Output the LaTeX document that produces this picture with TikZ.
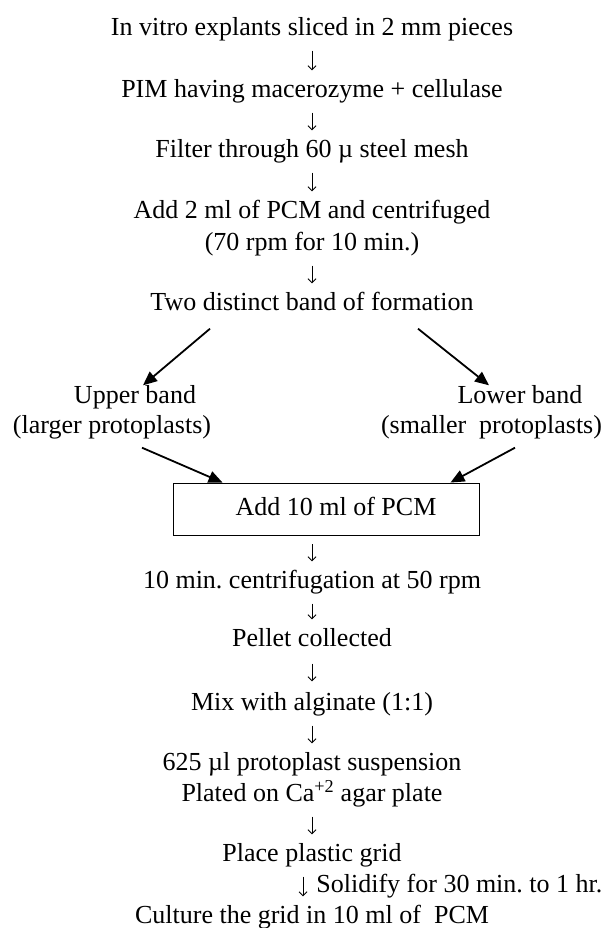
\documentclass[tikz,border=0pt]{standalone}
\usepackage{fontspec}
\setmainfont{Liberation Serif}
\usetikzlibrary{arrows.meta,calc}

\begin{document}
\begin{tikzpicture}[x=1pt,y=-1pt,
    stage/.style={inner sep=0pt,text height=18pt,text depth=6pt,font=\fontsize{26}{31}\selectfont\frenchspacing},
    boxed/.style={stage,draw,line width=0.9pt,minimum width=306pt,minimum height=52pt},
    down/.style={line width=0.8pt,-{Straight Barb[length=4pt,width=8pt]},shorten <=9pt,shorten >=9pt},
    fork/.style={line width=1.8pt,-{Triangle[length=14pt,width=12pt]}}]
    \useasboundingbox (0,0) rectangle (612,928);

    % main column
    \node[stage] (slice) at (312,29.5) {In vitro explants sliced in 2 mm pieces};
    \node[stage] (pim) at (312,91.5) {PIM having macerozyme + cellulase};
    \node[stage] (filter) at (312,151.5) {Filter through 60 µ steel mesh};
    \node[stage] (addtwo) at (312,212.5) {Add 2 ml of PCM and centrifuged};
    \node[stage] (rpm) at (312,244.5) {(70 rpm for 10 min.)};
    \node[stage] (bands) at (312,304.5) {Two distinct band of formation};

    % the two bands
    \node[stage] (upper) at (135,397.5) {Upper band};
    \node[stage] (larger) at (112,427.5) {(larger protoplasts)};
    \node[stage] (lower) at (520,397.5) {Lower band};
    \node[stage] (smaller) at (491.5,427.5) {(smaller~ protoplasts)};

    \node[boxed] (addten) at (326,509) {\hspace{20pt}Add 10 ml of PCM};
    \node[stage] (spin) at (312,582.5) {10 min. centrifugation at 50 rpm};
    \node[stage] (pellet) at (312,640.5) {Pellet collected};
    \node[stage] (mix) at (312,704.5) {Mix with alginate (1:1)};
    \node[stage] (susp) at (312,764.5) {625 µl protoplast suspension};
    \node[stage] (plated) at (312,795.5) {Plated on Ca\textsuperscript{+2} agar plate};
    \node[stage] (grid) at (312,855.5) {Place plastic grid};
    \node[stage] (culture) at (312,917.5) {Culture the grid in 10 ml of~ PCM};

    % arrows
    \draw[down] (slice) -- (pim);
    \draw[down] (pim) -- (filter);
    \draw[down] (filter) -- (addtwo);
    \draw[down] (rpm) -- (bands);
    \draw[fork] ($(bands.south)+(-102,12)$) -- ([xshift=8pt]upper.north);
    \draw[fork] ($(bands.south)+(106,12)$) -- ([xshift=-31pt]lower.north);
    \draw[fork] ($(larger.south)+(30,8)$) -- ($(addten.north west)+(50,0)$);
    \draw[fork] ($(smaller.south)+(23.5,8)$) -- ($(addten.north east)+(-29,0)$);
    \draw[down] (spin.north |- addten.south) -- (spin.north);
    \draw[down] (spin) -- (pellet);
    \draw[down,shorten <=11pt,shorten >=11pt] (pellet) -- (mix);
    \draw[down] (mix) -- (susp);
    \draw[down] (plated) -- (grid);
    \draw[down] ([xshift=-9pt]grid.south) -- node[stage,right,xshift=13pt]{Solidify for 30 min. to 1 hr.} ([xshift=-9pt]culture.north);
\end{tikzpicture}
\end{document}
